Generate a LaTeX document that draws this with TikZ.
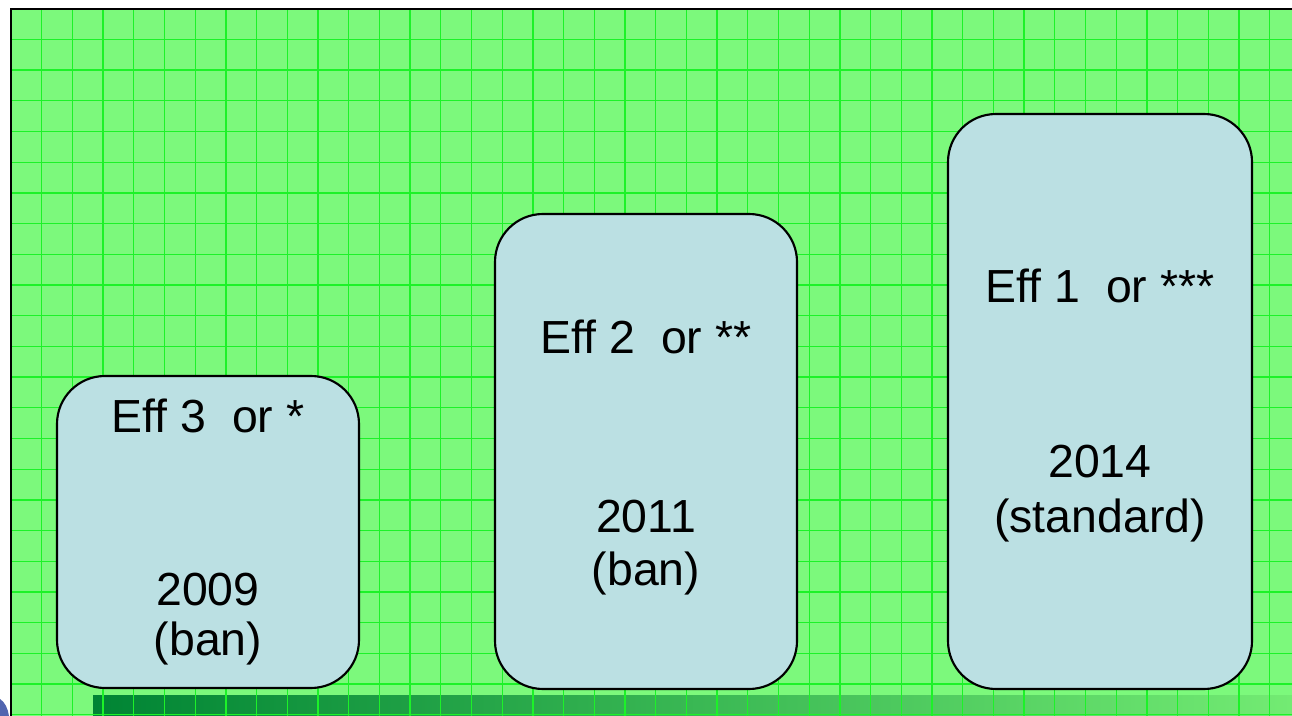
\documentclass[tikz,border=0pt]{standalone}
\usepackage{fontspec}
\setmainfont{Liberation Sans}
\definecolor{paper}{RGB}{124,249,124}
\definecolor{gridgreen}{RGB}{28,242,40}
\definecolor{barleft}{RGB}{0,132,52}
\definecolor{barmid}{RGB}{65,200,90}
\definecolor{barright}{RGB}{115,235,115}
\definecolor{boxfill}{RGB}{187,224,227}
\definecolor{blobblue}{RGB}{80,100,175}
\tikzset{
  gridline/.style={draw=gridgreen, line width=0.95pt},
  frameline/.style={draw=black, line width=1.5pt},
  levelbox/.style={draw=black, fill=boxfill, line width=1.6pt,
    rounded corners=36pt, minimum width=226.5pt, inner sep=0pt},
  label text/.style={anchor=base, inner sep=0pt, font=\fontsize{34.8}{40}\selectfont},
}
\begin{document}
\begin{tikzpicture}[x=0.75pt,y=-0.75pt]
\useasboundingbox (0,0) rectangle (1292,716);

% page background and graph-paper field
\fill[white] (0,0) rectangle (1292,716);
\fill[paper] (11,8.7) rectangle (1292,716);
\fill[blobblue] (0,716) -- (0,699) .. controls (5,702) and (8,709) .. (9,716) -- cycle;

% gradient strip along the bottom
\shade[left color=barleft, middle color=barmid, right color=barright]
  (93,695) rectangle (1292,716);

% grid
\foreach \i in {1,...,41} \draw[gridline] ({11+30.7*\i},8.7) -- ({11+30.7*\i},716);
\foreach \j in {1,...,23} \draw[gridline] (11,{8.7+30.7*\j}) -- (1292,{8.7+30.7*\j});

% frame on top and left
\draw[frameline] (11,716) -- (11,8.7) -- (1292,8.7);

% efficiency level boxes
\node[levelbox, minimum height=234pt] (box3) at (208,532) {};
\node[levelbox, minimum height=356.25pt] (box2) at (646,451.5) {};
\node[levelbox, minimum width=228pt, minimum height=431.25pt] (box1) at (1100,401.5) {};

% labels
\node[label text] (eff3) at (208,432) {Eff 3\ \ or *};
\node[label text] (y2009) at (208,605) {2009};
\node[label text] (ban09) at (208,655) {(ban)};

\node[label text] (eff2) at (646,354) {Eff 2\ \ or **};
\node[label text] (y2011) at (646,532) {2011};
\node[label text] (ban11) at (646,585) {(ban)};

\node[label text] (eff1) at (1100,303) {Eff 1\ \ or ***};
\node[label text] (y2014) at (1100,477) {2014};
\node[label text] (std14) at (1100,532) {(standard)};
\end{tikzpicture}
\end{document}
